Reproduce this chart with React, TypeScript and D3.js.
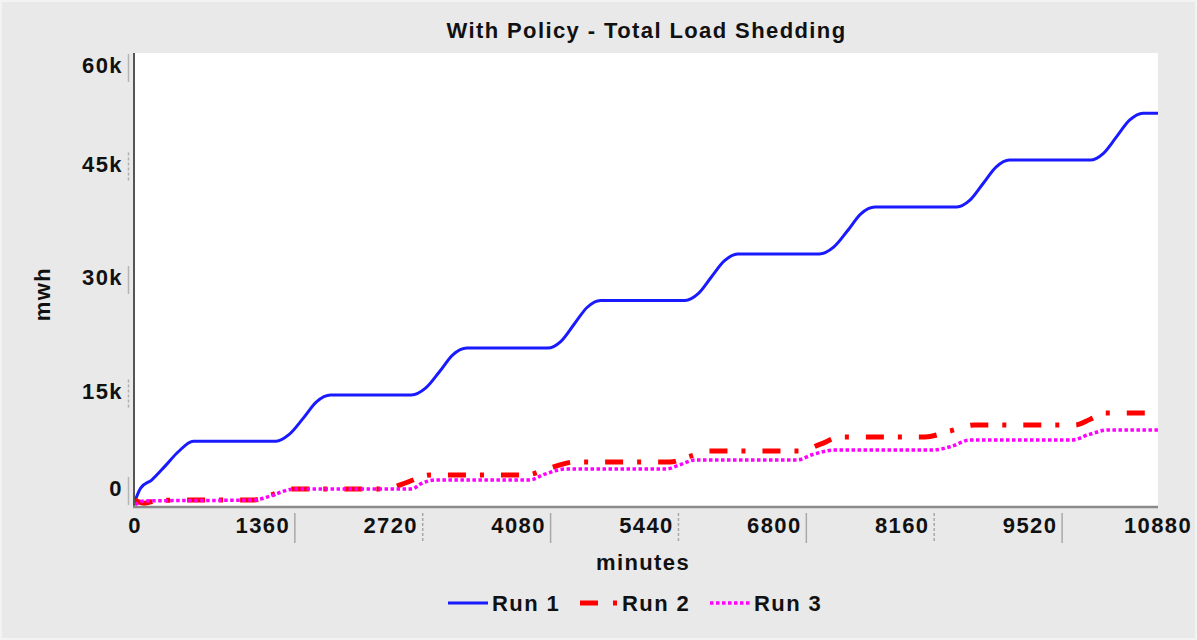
import React from "react";
import * as d3 from "d3";

const title = "With Policy - Total Load Shedding";
const xLabel = "minutes";
const yLabel = "mwh";
const xTicks = [0, 1360, 2720, 4080, 5440, 6800, 8160, 9520, 10880];
const yTicks = [0, 15000, 30000, 45000, 60000];
const yTickLabels = ["0", "15k", "30k", "45k", "60k"];
const seriesNames = ["Run 1", "Run 2", "Run 3"];

const run1Time = [0, 60, 180, 320, 460, 620, 1500, 1640, 1790, 1930, 2080, 2940, 3090, 3240, 3380, 3530, 4390, 4530, 4670, 4810, 4950, 5850, 5990, 6130, 6270, 6410, 7280, 7430, 7580, 7720, 7870, 8740, 8880, 9020, 9160, 9300, 10160, 10300, 10440, 10580, 10720, 10880];
const run1Value = [800, 2500, 3600, 5400, 7300, 8700, 8700, 9600, 11750, 13900, 14800, 14800, 15700, 17900, 20100, 21000, 21000, 21900, 24150, 26400, 27300, 27300, 28200, 30400, 32550, 33450, 33450, 34350, 36550, 38750, 39650, 39650, 40550, 42750, 44950, 45850, 45850, 46750, 48950, 51150, 52050, 52050];

const run2Time = [0, 100, 250, 1270, 1450, 1650, 2660, 2900, 3140, 4150, 4400, 4680, 5690, 5900, 6115, 7070, 7290, 7500, 8400, 8670, 8930, 10000, 10160, 10320, 10880];
const run2Value = [900, 500, 900, 925, 1600, 2380, 2380, 3300, 4230, 4230, 5100, 5950, 5950, 6700, 7400, 7400, 8300, 9250, 9250, 10050, 10840, 10840, 11600, 12420, 12420];

const run3Time = [0, 100, 1280, 1400, 1700, 2950, 3030, 3200, 4200, 4350, 4580, 5650, 5800, 5960, 7040, 7200, 7450, 8480, 8680, 8880, 9960, 10150, 10350, 10880];
const run3Value = [300, 800, 925, 1300, 2380, 2380, 3000, 3570, 3570, 4300, 5020, 5020, 5600, 6210, 6210, 6900, 7530, 7530, 8000, 8850, 8850, 9600, 10180, 10180];

const W = 1197;
const H = 640;
const M = { left: 135, right: 1158, top: 53, bottom: 507 };
const FONT = "'Liberation Sans', Arial, Helvetica, sans-serif";

export default function App() {
  const x = d3.scaleLinear().domain([0, 10880]).range([M.left, M.right]);
  const y = d3.scaleLinear().domain([0, 60000]).range([M.bottom, M.top]);
  const line = d3
    .line<[number, number]>()
    .x((d) => x(d[0]))
    .y((d) => y(d[1]))
    .curve(d3.curveMonotoneX);

  const zip = (t: number[], v: number[]) => t.map((tt, i) => [tt, v[i]] as [number, number]);
  const series = [
    { name: seriesNames[0], data: zip(run1Time, run1Value), color: "#1a1aff", width: 3, dash: "none" },
    { name: seriesNames[1], data: zip(run2Time, run2Value), color: "#ff0000", width: 5, dash: "18 14 4 17" },
    { name: seriesNames[2], data: zip(run3Time, run3Value), color: "#ff00ff", width: 3.5, dash: "3.5 2.5" },
  ];

  const textStyle = { fontFamily: FONT, fontWeight: 700, fontSize: 22, letterSpacing: 1.4, fill: "#111" } as const;
  const step = x(1360) - x(0);

  return (
    <svg width={W} height={H} style={{ position: "absolute", left: 0, top: 0, display: "block" }}>
      <rect x={0} y={0} width={W} height={H} fill="#e9e9e9" />
      <rect x={1} y={1} width={W - 2} height={H - 2} fill="none" stroke="#f3f3f3" strokeWidth={2} />
      <defs>
        <clipPath id="plotclip">
          <rect x={M.left} y={M.top - 4} width={M.right - M.left} height={M.bottom - M.top + 4} />
        </clipPath>
      </defs>
      <rect x={M.left} y={M.top} width={M.right - M.left} height={M.bottom - M.top} fill="#ffffff" />
      <text x={(M.left + M.right) / 2} y={38} textAnchor="middle" style={{ ...textStyle, fontSize: 22 }}>
        {title}
      </text>

      {/* y tick labels + marks */}
      {yTicks.map((v, i) => {
        const cy = Math.max(65, Math.min(488, y(v) - 3));
        return (
          <g key={"y" + v}>
            <text x={123} y={cy + 8} textAnchor="end" style={textStyle}>
              {yTickLabels[i]}
            </text>
            <line
              x1={128.5}
              x2={128.5}
              y1={Math.max(M.top, cy - 11)}
              y2={cy + 17}
              stroke={i % 2 === 0 ? "#b5b5b5" : "#b0b0b0"}
              strokeWidth={1.5}
              strokeDasharray={i % 2 === 0 ? "none" : "3 2"}
            />
          </g>
        );
      })}

      {/* x tick labels + marks */}
      {xTicks.map((v, i) => (
        <g key={"x" + v}>
          <text x={x(v)} y={533} textAnchor="middle" style={textStyle}>
            {v}
          </text>
          {i > 0 && i < xTicks.length - 1 && (
            <line
              x1={x(v) + step / 4}
              x2={x(v) + step / 4}
              y1={513}
              y2={543}
              stroke="#a8a8a8"
              strokeWidth={1.5}
              strokeDasharray={i % 2 === 1 ? "none" : "3 2"}
            />
          )}
        </g>
      ))}

      <g clipPath="url(#plotclip)">
        {series.map((s) => (
          <path
            key={s.name}
            d={line(s.data) || ""}
            fill="none"
            stroke={s.color}
            strokeWidth={s.width}
            strokeDasharray={s.dash}
            strokeLinejoin="round"
          />
        ))}
      </g>

      {/* axes */}
      <line x1={M.left - 1} x2={M.left - 1} y1={M.top} y2={M.bottom + 1} stroke="#555" strokeWidth={2} />
      <line x1={M.left - 2} x2={M.right} y1={M.bottom} y2={M.bottom} stroke="#8a8a8a" strokeWidth={2.5} />

      <text x={643} y={570} textAnchor="middle" style={textStyle}>
        {xLabel}
      </text>
      <text transform="translate(50,294) rotate(-90)" textAnchor="middle" style={textStyle}>
        {yLabel}
      </text>

      {/* legend */}
      <g>
        <line x1={448} x2={488} y1={603} y2={603} stroke={series[0].color} strokeWidth={3} />
        <text x={492} y={611} style={textStyle}>{seriesNames[0]}</text>
        <line x1={580} x2={598} y1={603} y2={603} stroke={series[1].color} strokeWidth={5} />
        <line x1={613} x2={617} y1={603} y2={603} stroke={series[1].color} strokeWidth={5} />
        <text x={622} y={611} style={textStyle}>{seriesNames[1]}</text>
        <line x1={710} x2={752} y1={603} y2={603} stroke={series[2].color} strokeWidth={3.5} strokeDasharray="3.5 2.5" />
        <text x={754} y={611} style={textStyle}>{seriesNames[2]}</text>
      </g>
    </svg>
  );
}
